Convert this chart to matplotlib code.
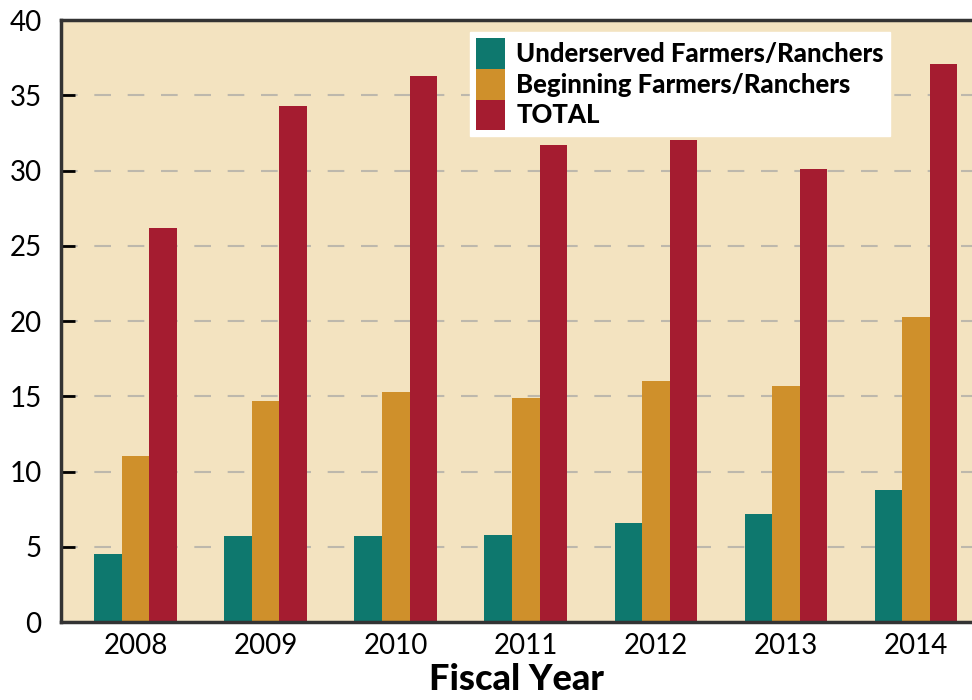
import numpy as np
import matplotlib.pyplot as plt

years = ["2008", "2009", "2010", "2011", "2012", "2013", "2014"]
underserved = [4.5, 5.7, 5.7, 5.8, 6.6, 7.2, 8.8]
beginning = [11.0, 14.7, 15.3, 14.9, 16.0, 15.7, 20.3]
total = [26.2, 34.3, 36.3, 31.7, 32.0, 30.1, 37.1]

plt.rcParams["font.family"] = ["Lato", "DejaVu Sans"]

fig = plt.figure(figsize=(9.72, 7), dpi=100)
ax = fig.add_axes([0.0628, 0.1114, 0.9372, 0.86])
ax.set_facecolor("#F3E3C0")

x = np.arange(len(years))
w = 0.212
ax.bar(x - w, underserved, w, color="#0E786E", label="Underserved Farmers/Ranchers")
ax.bar(x, beginning, w, color="#CF902B", label="Beginning Farmers/Ranchers")
ax.bar(x + w, total, w, color="#A51C30", label="TOTAL")

ax.set_xlim(-0.573, 6.43)
ax.set_ylim(0, 40)
ax.set_yticks(range(0, 41, 5))
ax.set_xticks(x)
ax.set_xticklabels(years)
ax.tick_params(axis="y", direction="in", length=10, width=2, labelsize=20, pad=14, colors="black")
ax.tick_params(axis="x", length=0, labelsize=20, pad=8)
ax.yaxis.grid(True, linestyle=(0, (8, 8)), color="#BDB8AC", linewidth=1.5)
ax.set_axisbelow(True)

for s in ["left", "bottom", "top"]:
    ax.spines[s].set_color("#333333")
    ax.spines[s].set_linewidth(2.5)
ax.spines["right"].set_visible(False)

ax.set_xlabel("Fiscal Year", fontsize=26, fontweight="black", labelpad=3)

leg = ax.legend(loc="upper left", bbox_to_anchor=(0.449, 0.98), fontsize=18.5,
                frameon=True, fancybox=False, framealpha=1, edgecolor="white",
                handlelength=1.1, handleheight=1.45, handletextpad=0.45,
                labelspacing=0.0, borderpad=0.25, borderaxespad=0)
for t in leg.get_texts():
    t.set_fontweight("black")

fig.savefig("out.png", dpi=100)
